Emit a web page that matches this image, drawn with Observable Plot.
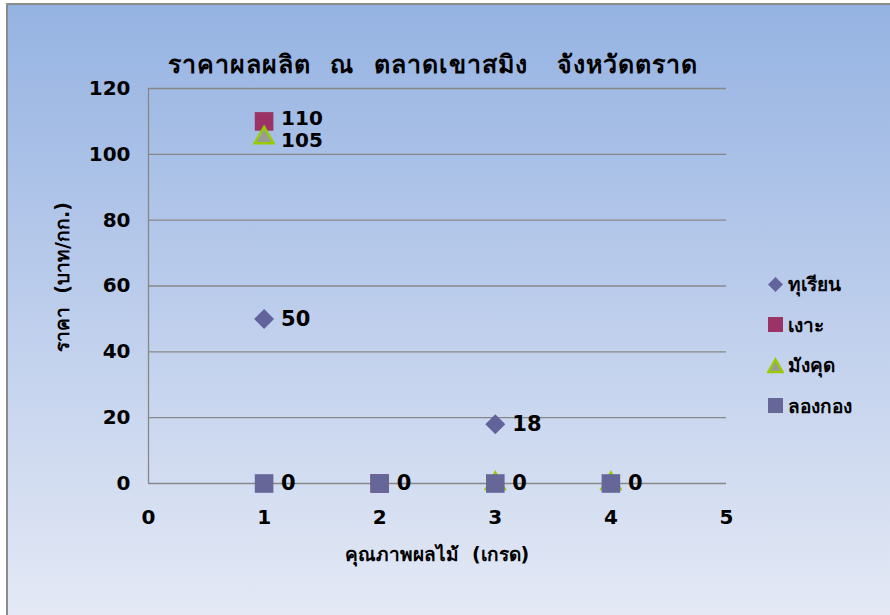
<!DOCTYPE html>
<html><head><meta charset="utf-8">
<script src="https://cdn.jsdelivr.net/npm/d3@7"></script>
<script src="https://cdn.jsdelivr.net/npm/@observablehq/plot@0.6"></script>
<style>
html,body{margin:0;padding:0;background:#fff;}
#wrap{position:absolute;left:0;top:0;width:890px;height:615px;overflow:hidden;}
#bg{position:absolute;left:6px;top:3px;width:884px;height:612px;
  background:linear-gradient(to bottom,#95b3e2 0%,#b9cbeb 45%,#e4e9f5 100%);
  border-top:2px solid #8c8c8c;border-left:2px solid #8c8c8c;box-sizing:border-box;}
#chart{position:absolute;left:0;top:0;}
.t{position:absolute;font-family:Tahoma,"DejaVu Sans","Noto Sans",sans-serif;font-weight:bold;color:#000;white-space:nowrap;}
#title{left:0;width:866px;top:44px;text-align:center;font-size:25px;letter-spacing:1px;}
#xlab{left:0;width:874px;top:539px;text-align:center;font-size:19px;}
#ylab{left:62px;top:277px;font-size:19px;transform:translate(-50%,-50%) rotate(-90deg);transform-origin:center;}
#legend{left:767px;top:264px;font-size:19px;}
.li{height:40.5px;display:flex;align-items:center;}
.li svg{margin-right:4px;}
</style></head><body>
<div id="wrap">
<div id="bg"></div>
<div id="chart"></div>
<div class="t" id="title">ราคาผลผลิต&nbsp;&nbsp;ณ&nbsp;&nbsp;ตลาดเขาสมิง&nbsp;&nbsp;&nbsp;จังหวัดตราด</div>
<div class="t" id="xlab">คุณภาพผลไม้&nbsp;&nbsp;(เกรด)</div>
<div class="t" id="ylab">ราคา&nbsp;&nbsp;(บาท/กก.)</div>
<div class="t" id="legend"></div>
</div>
<script>
const seriesNames = ["ทุเรียน","เงาะ","มังคุด","ลองกอง"];
const durianX = [1,3];       const durianY = [50,18];
const rambutanX = [1,2];     const rambutanY = [110,0];
const mangosteenX = [1,3,4]; const mangosteenY = [105,0,0];
const longkongX = [1,2,3,4]; const longkongY = [0,0,0,0];
const xTicks = [0,1,2,3,4,5];
const yTicks = [0,20,40,60,80,100,120];

const colors = {"ทุเรียน":"#63639c","เงาะ":"#9b3366","มังคุด":"#9a9a9a","ลองกอง":"#666699"};
const mk = (name,xs,ys)=>xs.map((x,i)=>({s:name,x,y:ys[i]}));
const durian = mk("ทุเรียน",durianX,durianY);
const rambutan = mk("เงาะ",rambutanX,rambutanY);
const mangosteen = mk("มังคุด",mangosteenX,mangosteenY);
const longkong = mk("ลองกอง",longkongX,longkongY);
const labeledMain = [...durian,...longkong];
const labeledRamb = rambutan.filter(d=>d.y!==0);
const labeledMang = mangosteen.filter(d=>d.y!==0);

const font = 'Tahoma,"DejaVu Sans","Noto Sans",sans-serif';
const lbl = {x:"x", y:"y", text:d=>String(d.y), dx:17, textAnchor:"start", fontSize:21, fontWeight:"bold", fill:"#000"};
const plot = Plot.plot({
  width: 890, height: 615,
  marginLeft: 148, marginRight: 164, marginTop: 88, marginBottom: 132,
  style: {background:"transparent", fontFamily: font, fontSize:"20px", fontWeight:"bold", color:"#000", overflow:"visible"},
  x: {domain:[0,5], label:null},
  y: {domain:[0,120], label:null},
  marks: [
    Plot.ruleY(yTicks, {stroke:"#878787", strokeWidth:1.3}),
    Plot.ruleX([0], {stroke:"#878787", strokeWidth:1.3}),
    Plot.axisX({ticks:xTicks, tickSize:0, tickPadding:26, fontSize:20, fontWeight:"bold", tickFormat:d=>String(d), label:null}),
    Plot.axisY({ticks:yTicks, tickSize:0, tickPadding:18, fontSize:20, fontWeight:"bold", tickFormat:d=>String(d), label:null}),
    Plot.dot(durian, {x:"x", y:"y", symbol:"diamond2", r:9, fill:colors["ทุเรียน"], stroke:null}),
    Plot.dot(rambutan, {x:"x", y:"y", symbol:"square", r:10.5, fill:colors["เงาะ"], stroke:null}),
    Plot.dot(mangosteen, {x:"x", y:"y", symbol:"triangle", r:7, fill:colors["มังคุด"], stroke:"#99cc00", strokeWidth:2.5}),
    Plot.dot(longkong, {x:"x", y:"y", symbol:"square", r:10.5, fill:colors["ลองกอง"], stroke:null}),
    Plot.text(labeledMain, lbl),
    Plot.text(labeledRamb, {...lbl, fontSize:20, dy:-3}),
    Plot.text(labeledMang, {...lbl, fontSize:20, dy:3}),
  ]
});
document.getElementById("chart").appendChild(plot);

// legend
const lg = document.getElementById("legend");
const sym = {
  "ทุเรียน":'<svg width="17" height="17"><path d="M8.5 1 L16 8.5 L8.5 16 L1 8.5 Z" fill="#63639c"/></svg>',
  "เงาะ":'<svg width="17" height="17"><rect x="1" y="1" width="15" height="15" fill="#9b3366"/></svg>',
  "มังคุด":'<svg width="17" height="17"><path d="M8.5 2.5 L15.5 15 L1.5 15 Z" fill="#9a9a9a" stroke="#99cc00" stroke-width="2.5"/></svg>',
  "ลองกอง":'<svg width="17" height="17"><rect x="1" y="1" width="15" height="15" fill="#666699"/></svg>'
};
seriesNames.forEach(n=>{
  const d=document.createElement("div"); d.className="li";
  d.innerHTML=sym[n]+'<span>'+n+'</span>'; lg.appendChild(d);
});
</script>
</body></html>
